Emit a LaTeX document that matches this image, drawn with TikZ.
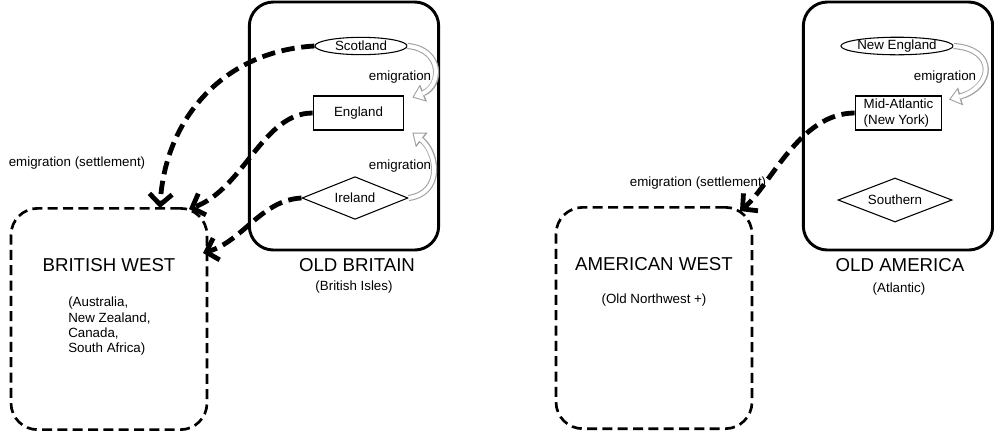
\documentclass[tikz,border=0pt]{standalone}
\usepackage{fontspec}
\setmainfont{Liberation Sans}
\usetikzlibrary{arrows.meta, shapes.geometric}

\begin{document}
\begin{tikzpicture}[x=0.75pt, y=-0.75pt,
    zone/.style={draw, line width=2.2pt, rounded corners=18pt, minimum width=142pt, minimum height=186pt},
    frontier/.style={draw, line width=2pt, dash pattern=on 7.5pt off 4pt, rounded corners=20pt, minimum width=147pt, minimum height=166pt},
    bigname/.style={font=\fontsize{14}{16}\selectfont},
    smalltext/.style={font=\fontsize{10}{11.5}\selectfont},
    oval/.style={draw, line width=0.8pt, ellipse, smalltext, inner sep=0pt, minimum height=13pt},
    box/.style={draw, line width=0.8pt, rectangle, smalltext, inner sep=1pt},
    kite/.style={draw, line width=0.8pt, diamond, aspect=2.5, smalltext, inner sep=0pt},
    settle/.style={line width=3.6pt, dash pattern=on 10pt off 5pt, -{Straight Barb[length=8pt, width=17pt]}},
    emiout/.style={draw=gray!75, line width=4.6pt, -{Triangle[length=9pt, width=14pt, line width=0pt]}},
    emiin/.style={draw=white, line width=3pt, shorten >=1.3pt, -{Triangle[length=6.6pt, width=10.4pt, line width=0pt]}}
  ]
  \useasboundingbox (0,0) rectangle (994,430);

  % British west
  \node[frontier] (bw) at (109,319) {};
  \node[bigname] (bwname) at (109,265) {BRITISH WEST};
  \node[smalltext, align=left, anchor=north west, inner sep=0pt] (bwlist) at (68,297)
    {(Australia,\\New Zealand,\\Canada,\\South Africa)};
  \coordinate (bwtop) at (160,208);
  \coordinate (bwcorner) at (189,209);
  \coordinate (bwside) at (203,253);

  % Old Britain
  \node[zone] (ob) at (344,126) {};
  \node[bigname] (obname) at (357,265) {OLD BRITAIN};
  \node[smalltext] (obsub) at (354,287) {(British Isles)};
  \node[oval, minimum width=69pt] (sc) at (361,46) {Scotland};
  \node[box, minimum width=68pt, minimum height=25.5pt] (eng) at (358.5,113) {England};
  \node[kite, minimum width=79.5pt, minimum height=32pt] (ire) at (355,198) {Ireland};

  % emigration inside Britain
  \draw[emiout] (sc.east) .. controls +(35,3) and +(30,-12) .. ([xshift=6pt, yshift=-1.5pt]eng.north east);
  \draw[emiin] (sc.east) .. controls +(35,3) and +(30,-12) .. ([xshift=6pt, yshift=-1.5pt]eng.north east);
  \node[smalltext] (emisc) at (400,77) {emigration};
  \draw[emiout] (ire.east) .. controls +(35,-5) and +(25,20) .. ([xshift=6pt, yshift=-1.5pt]eng.south east);
  \draw[emiin] (ire.east) .. controls +(35,-5) and +(25,20) .. ([xshift=6pt, yshift=-1.5pt]eng.south east);
  \node[smalltext] (emiire) at (400,166) {emigration};

  % settlement of the British west
  \draw[settle] (sc.west) .. controls +(-90,5) and +(5,-90) .. (bwtop);
  \draw[settle] (eng.west) .. controls +(-50,0) and +(55,-20) .. (bwcorner);
  \draw[settle] (ire.west) .. controls +(-40,2) and +(40,-12) .. (bwside);
  \node[smalltext] (bwemi) at (77,163) {emigration (settlement)};

  % American west
  \node[frontier] (aw) at (654,318) {};
  \node[bigname] (awname) at (654,264) {AMERICAN WEST};
  \node[smalltext] (awsub) at (654,300) {(Old Northwest +)};
  \coordinate (awcorner) at (740,211);

  % Old America
  \node[zone] (oa) at (898,126) {};
  \node[bigname] (oaname) at (900,265) {OLD AMERICA};
  \node[smalltext] (oasub) at (899,289) {(Atlantic)};
  \node[oval, minimum width=82pt] (ne) at (897,46) {New England};
  \node[box, align=left, minimum width=65pt, minimum height=25.5pt] (ma) at (898.5,113) {Mid-Atlantic\\ (New York)};
  \node[kite, minimum width=85.5pt, minimum height=33pt] (so) at (895,200) {Southern};

  % emigration inside America
  \draw[emiout] (ne.east) .. controls +(44,3) and +(44,-12) .. ([xshift=5pt, yshift=-3pt]ma.north east);
  \draw[emiin] (ne.east) .. controls +(44,3) and +(44,-12) .. ([xshift=5pt, yshift=-3pt]ma.north east);
  \node[smalltext] (emine) at (945,77) {emigration};

  % settlement of the American west
  \draw[settle] (ma.west) .. controls +(-55,0) and +(30,-25) .. (awcorner);
  \node[smalltext] (awemi) at (698,183) {emigration (settlement)};
\end{tikzpicture}
\end{document}
